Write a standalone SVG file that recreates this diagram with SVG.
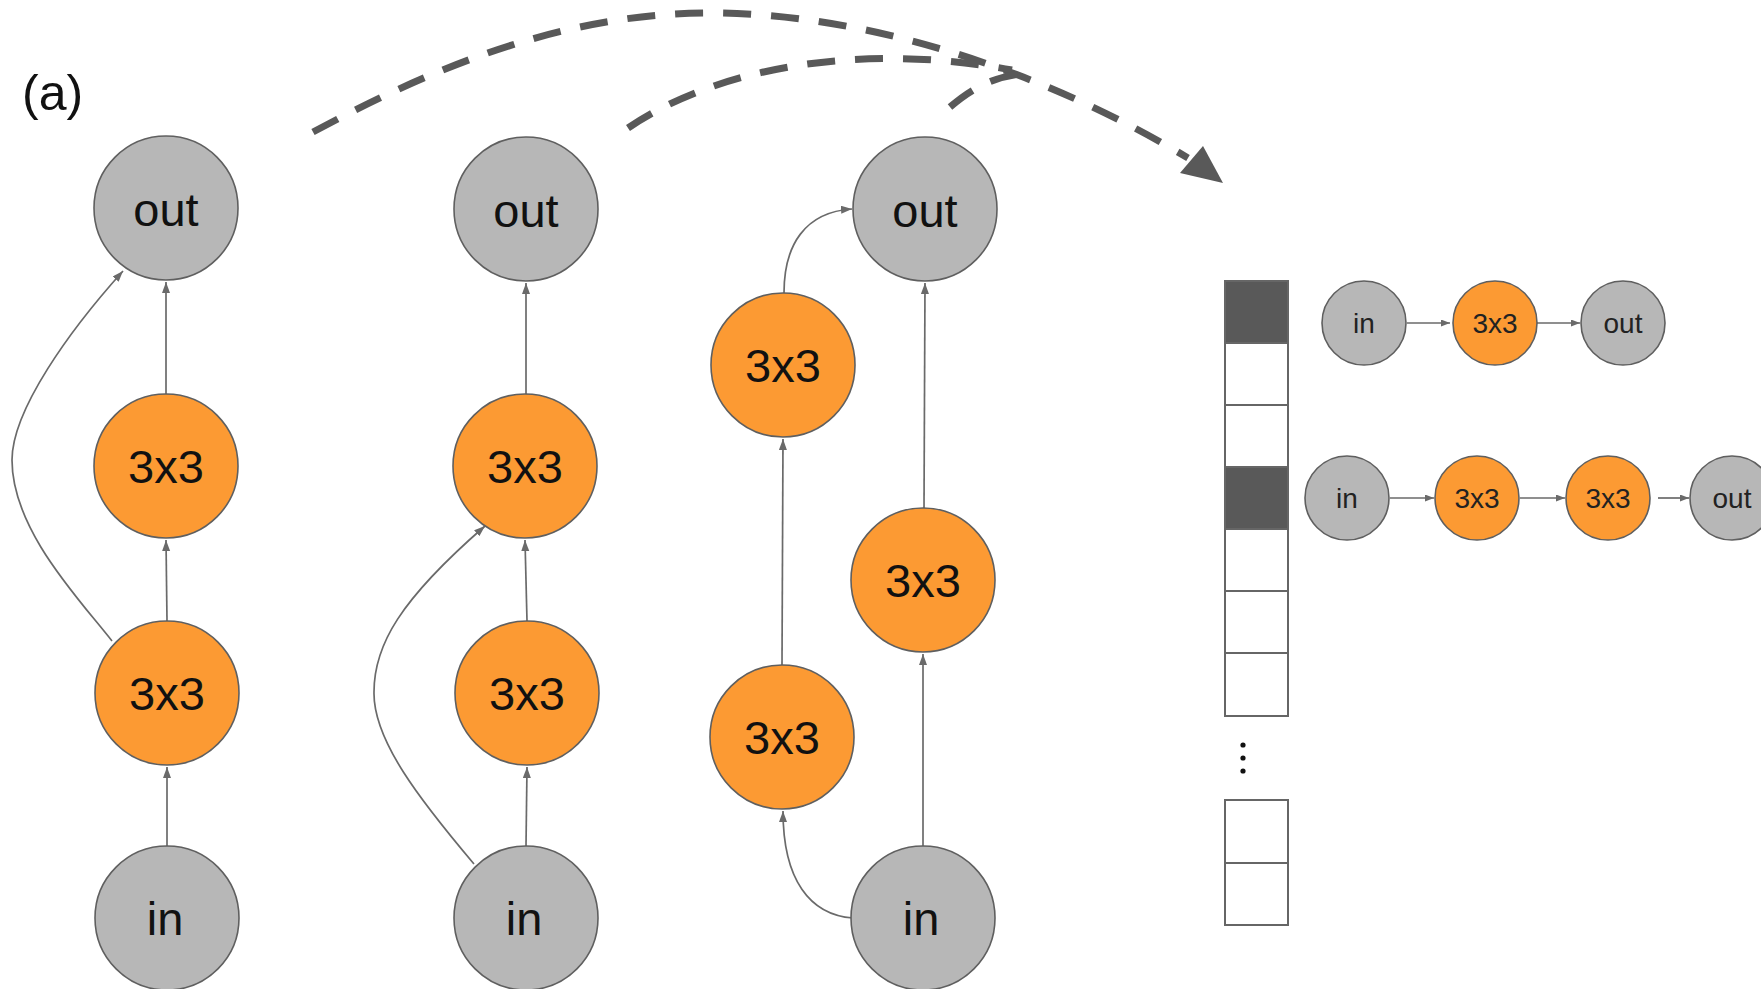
<svg xmlns="http://www.w3.org/2000/svg" width="1761" height="989" viewBox="0 0 1761 989">
<style>
  .g { fill: #b7b7b7; stroke: #5f5f5f; stroke-width: 1.6; }
  .o { fill: #fc9a33; stroke: #5f5f5f; stroke-width: 1.6; }
  .t { font-family: "Liberation Sans", Arial, sans-serif; font-size: 47px; fill: #111; text-anchor: middle; }
  .ts { font-family: "Liberation Sans", Arial, sans-serif; font-size: 28px; fill: #222; text-anchor: middle; }
  .e { fill: none; stroke: #6a6a6a; stroke-width: 1.7; marker-end: url(#ah); }
  .es { fill: none; stroke: #6a6a6a; stroke-width: 1.7; marker-end: url(#ahs); }
  .d { fill: none; stroke: #595959; stroke-width: 7; stroke-dasharray: 28 20; }
  .cell { fill: #ffffff; stroke: #666666; stroke-width: 2; }
  .dark { fill: #595959; stroke: #666666; stroke-width: 2; }
</style>
<defs>
  <marker id="ah" markerUnits="userSpaceOnUse" markerWidth="12" markerHeight="9" refX="11" refY="4" orient="auto">
    <path d="M0,0 L11,4 L0,8 z" fill="#6a6a6a"/>
  </marker>
  <marker id="ahs" markerUnits="userSpaceOnUse" markerWidth="10" markerHeight="8" refX="9" refY="3.5" orient="auto">
    <path d="M0,0 L9,3.5 L0,7 z" fill="#6a6a6a"/>
  </marker>
</defs>
<rect width="1761" height="989" fill="#ffffff"/>
<text id="label-a" x="22" y="110" font-family="Liberation Sans, Arial, sans-serif" font-size="50" fill="#111">(a)</text>

<g id="connectors">
  <!-- column 1 -->
  <line class="e" x1="167" y1="846" x2="167" y2="767"/>
  <line class="e" x1="167" y1="621" x2="166" y2="540"/>
  <line class="e" x1="166" y1="394" x2="166" y2="282"/>
  <path class="e" d="M112,641 C80,600 12,530 12,460 C12,410 70,330 123,271"/>
  <!-- column 2 -->
  <line class="e" x1="526" y1="846" x2="527" y2="767"/>
  <line class="e" x1="527" y1="621" x2="525" y2="540"/>
  <line class="e" x1="526" y1="394" x2="526" y2="283"/>
  <path class="e" d="M474,864 C420,800 373,740 374,692 C374,645 400,600 485,526"/>
  <!-- column 3 -->
  <line class="e" x1="782" y1="665" x2="783" y2="439"/>
  <line class="e" x1="923" y1="846" x2="923" y2="654"/>
  <line class="e" x1="924" y1="508" x2="925" y2="283"/>
  <path class="e" d="M853,918 C810,915 783,880 783,811"/>
  <path class="e" d="M784,293 C784,245 805,212 852,209"/>
  <!-- dashed arcs -->
  <path class="d" d="M313,132 C420,75 560,10 720,13 C880,16 1050,75 1188,158"/>
  <path class="d" d="M628,128 C710,72 850,40 1012,70"/>
  <path class="d" d="M950,107 C970,90 990,78 1020,74"/>
  <polygon points="1223,183 1180,173 1203,146" fill="#595959"/>
  <!-- right side rows -->
  <line class="es" x1="1407" y1="323" x2="1450" y2="323"/>
  <line class="es" x1="1537" y1="323" x2="1580" y2="323"/>
  <line class="es" x1="1390" y1="498" x2="1434" y2="498"/>
  <line class="es" x1="1520" y1="498" x2="1565" y2="498"/>
  <line class="es" x1="1658" y1="498" x2="1689" y2="498"/>
</g>

<g id="col1-out"><circle class="g" cx="166" cy="208" r="72"/><text class="t" x="166" y="226">out</text></g>
<g id="col1-conv2"><circle class="o" cx="166" cy="466" r="72"/><text class="t" x="166" y="483">3x3</text></g>
<g id="col1-conv1"><circle class="o" cx="167" cy="693" r="72"/><text class="t" x="167" y="710">3x3</text></g>
<g id="col1-in"><circle class="g" cx="167" cy="918" r="72"/><text class="t" x="165" y="935">in</text></g>

<g id="col2-out"><circle class="g" cx="526" cy="209" r="72"/><text class="t" x="526" y="227">out</text></g>
<g id="col2-conv2"><circle class="o" cx="525" cy="466" r="72"/><text class="t" x="525" y="483">3x3</text></g>
<g id="col2-conv1"><circle class="o" cx="527" cy="693" r="72"/><text class="t" x="527" y="710">3x3</text></g>
<g id="col2-in"><circle class="g" cx="526" cy="918" r="72"/><text class="t" x="524" y="935">in</text></g>

<g id="col3-out"><circle class="g" cx="925" cy="209" r="72"/><text class="t" x="925" y="227">out</text></g>
<g id="col3-convA2"><circle class="o" cx="783" cy="365" r="72"/><text class="t" x="783" y="382">3x3</text></g>
<g id="col3-convB"><circle class="o" cx="923" cy="580" r="72"/><text class="t" x="923" y="597">3x3</text></g>
<g id="col3-convA1"><circle class="o" cx="782" cy="737" r="72"/><text class="t" x="782" y="754">3x3</text></g>
<g id="col3-in"><circle class="g" cx="923" cy="918" r="72"/><text class="t" x="921" y="935">in</text></g>

<g id="code-bar">
  <rect class="dark" x="1225" y="281" width="63" height="62"/>
  <rect class="cell" x="1225" y="343" width="63" height="62"/>
  <rect class="cell" x="1225" y="405" width="63" height="62"/>
  <rect class="dark" x="1225" y="467" width="63" height="62"/>
  <rect class="cell" x="1225" y="529" width="63" height="62"/>
  <rect class="cell" x="1225" y="591" width="63" height="62"/>
  <rect class="cell" x="1225" y="653" width="63" height="63"/>
  <circle cx="1243" cy="745" r="2.6" fill="#111"/>
  <circle cx="1243" cy="758" r="2.6" fill="#111"/>
  <circle cx="1243" cy="771" r="2.6" fill="#111"/>
  <rect class="cell" x="1225" y="800" width="63" height="63"/>
  <rect class="cell" x="1225" y="863" width="63" height="62"/>
</g>

<g id="r1-in"><circle class="g" cx="1364" cy="323" r="42"/><text class="ts" x="1364" y="333">in</text></g>
<g id="r1-conv"><circle class="o" cx="1495" cy="323" r="42"/><text class="ts" x="1495" y="333">3x3</text></g>
<g id="r1-out"><circle class="g" cx="1623" cy="323" r="42"/><text class="ts" x="1623" y="333">out</text></g>

<g id="r2-in"><circle class="g" cx="1347" cy="498" r="42"/><text class="ts" x="1347" y="508">in</text></g>
<g id="r2-conv1"><circle class="o" cx="1477" cy="498" r="42"/><text class="ts" x="1477" y="508">3x3</text></g>
<g id="r2-conv2"><circle class="o" cx="1608" cy="498" r="42"/><text class="ts" x="1608" y="508">3x3</text></g>
<g id="r2-out"><circle class="g" cx="1732" cy="498" r="42"/><text class="ts" x="1732" y="508">out</text></g>
</svg>
